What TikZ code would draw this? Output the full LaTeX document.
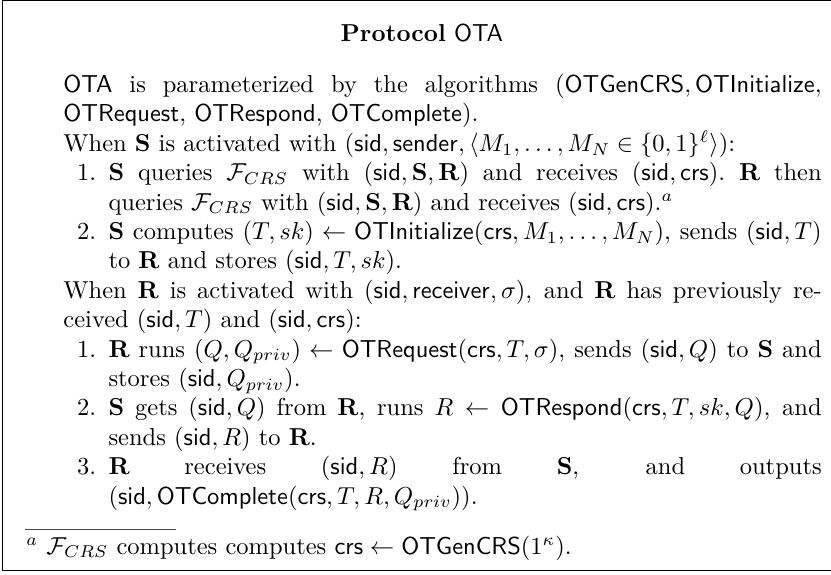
\documentclass[tikz,border=0pt]{standalone}
\usepackage{amsmath}
\usepackage{enumitem}
\newcommand{\msf}[1]{\mathsf{#1}}
\newcommand{\FCRS}{\mathcal{F}_{CRS}}
\tikzset{
  frame/.style={draw=black, line width=0.5pt},
  bodytext/.style={anchor=north west, inner sep=0pt, text width=309.5pt, align=justify, font=\normalsize},
  fnrule/.style={draw=black!70, line width=0.45pt},
}
\begin{document}
\begin{tikzpicture}
\useasboundingbox (0,0) rectangle (339.2pt,-234.3pt);
\coordinate (fa) at (1.1pt,-0.3pt);
\coordinate (fb) at (345pt,-233pt);
\draw[frame] (fa) rectangle (fb);
\node[anchor=base, inner sep=0pt] (title) at (172.2pt,-17pt) {\textbf{Protocol} \textsf{OTA}};
\node[bodytext] (body) at (25.7pt,-30.1pt) {%
\setlength{\parindent}{0pt}%
\setlist[enumerate]{leftmargin=18.4pt, labelsep=5pt, itemsep=0pt, topsep=0pt, parsep=0pt, partopsep=0pt}%
\textsf{OTA} is parameterized by the algorithms $(\msf{OTGenCRS}, \msf{OTInitialize},$\linebreak
$\msf{OTRequest}$, $\msf{OTRespond}$, $\msf{OTComplete})$.\par
When $\mathbf{S}$ is activated with $(\msf{sid}, \msf{sender}, \langle M_1, \ldots, M_N \in \{0,1\}^\ell\rangle)$:
\begin{enumerate}
\item $\mathbf{S}$ queries $\FCRS$ with $(\msf{sid}, \mathbf{S}, \mathbf{R})$ and receives $(\msf{sid}, \msf{crs})$.\ $\mathbf{R}$ then queries $\FCRS$ with $(\msf{sid}, \mathbf{S}, \mathbf{R})$ and receives $(\msf{sid}, \msf{crs})$.$^{a}$
\item $\mathbf{S}$ computes $(T, sk) \leftarrow \msf{OTInitialize}(\msf{crs}, M_1, \ldots, M_N)$, sends $(\msf{sid}, T)$ to $\mathbf{R}$ and stores $(\msf{sid}, T, sk)$.
\end{enumerate}
When $\mathbf{R}$ is activated with $(\msf{sid}, \msf{receiver}, \sigma)$, and $\mathbf{R}$ has previously received $(\msf{sid}, T)$ and $(\msf{sid}, \msf{crs})$:
\begin{enumerate}
\item $\mathbf{R}$ runs $(Q, Q_{priv}) \leftarrow \msf{OTRequest}(\msf{crs}, T, \sigma)$, sends $(\msf{sid}, Q)$ to $\mathbf{S}$ and stores $(\msf{sid}, Q_{priv})$.
\item $\mathbf{S}$ gets $(\msf{sid}, Q)$ from $\mathbf{R}$, runs $R \leftarrow \msf{OTRespond}(\msf{crs}, T, sk, Q)$, and sends $(\msf{sid}, R)$ to $\mathbf{R}$.
\item $\mathbf{R}$ receives $(\msf{sid}, R)$ from $\mathbf{S}$, and outputs $(\msf{sid}, \msf{OTComplete}(\msf{crs}, T, R, Q_{priv}))$.
\end{enumerate}};
\coordinate (ra) at (10.2pt,-216pt);
\coordinate (rb) at (71.8pt,-216pt);
\draw[fnrule] (ra) -- (rb);
\node[anchor=base west, inner sep=0pt] (fn) at (10.6pt,-226.2pt) {$^{a}$ $\FCRS$ computes computes $\msf{crs} \leftarrow \msf{OTGenCRS}(1^\kappa)$.};
\end{tikzpicture}
\end{document}
